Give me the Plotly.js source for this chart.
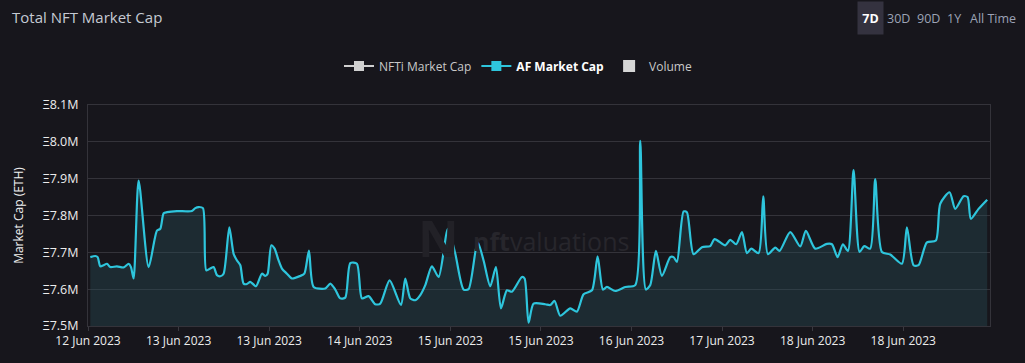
<!DOCTYPE html>
<html>
<head>
<meta charset="utf-8">
<script src="https://cdn.plot.ly/plotly-3.0.1.min.js"></script>
<style>
  html, body { margin: 0; padding: 0; background: #17161c; }
  #chart { width: 1025px; height: 363px; }
</style>
</head>
<body>
<div id="chart"></div>
<script>
// Hours after 12 Jun 2023 10:00 (UTC)
const hours = [0.43,1.35,1.79,2.28,2.90,3.52,4.14,5.37,6.61,7.54,7.97,8.46,9.39,11.25,12.79,13.41,14.03,14.65,16.50,19.28,19.90,20.52,21.32,21.94,22.68,23.30,23.92,24.54,25.15,26.21,27.01,27.63,28.25,28.86,29.48,30.10,31.15,32.26,32.88,33.32,34.00,34.61,35.35,35.97,36.90,37.83,39.37,40.12,40.98,41.85,44.01,44.94,45.86,46.79,47.72,48.65,49.88,50.81,52.05,53.28,54.21,55.94,58.04,58.85,59.77,60.70,61.63,62.56,63.79,65.03,66.76,68.12,69.67,70.59,72.26,73.37,74.61,75.66,76.59,77.70,78.63,80.48,80.98,81.72,82.65,84.81,85.74,86.54,87.59,89.45,90.68,91.92,93.47,94.52,95.51,96.25,97.79,99.65,101.50,102.43,103.48,104.29,105.34,106.45,107.99,108.61,109.23,110.47,111.08,112.32,113.87,115.41,116.21,118.19,119.12,120.23,121.29,122.21,123.02,124.38,125.24,126.11,127.47,128.27,130.25,132.10,133.15,134.89,137.05,137.98,139.03,140.02,140.95,141.99,143.11,143.97,145.08,146.01,147.25,148.80,150.96,151.89,153.12,154.05,155.60,157.26,158.07,159.80,160.85,162.40,163.14,163.75,165.18,166.78];
// AF Market Cap, millions of ETH
const afMarketCap = [7.687,7.690,7.687,7.662,7.665,7.669,7.660,7.662,7.659,7.669,7.660,7.629,7.895,7.660,7.759,7.764,7.806,7.809,7.812,7.812,7.820,7.823,7.820,7.651,7.656,7.660,7.638,7.635,7.642,7.768,7.696,7.678,7.665,7.615,7.614,7.620,7.608,7.642,7.636,7.642,7.719,7.710,7.678,7.656,7.642,7.629,7.636,7.642,7.705,7.606,7.602,7.615,7.599,7.575,7.577,7.671,7.669,7.575,7.581,7.559,7.561,7.624,7.557,7.629,7.575,7.570,7.584,7.611,7.662,7.633,7.764,7.696,7.599,7.600,7.728,7.678,7.608,7.660,7.548,7.597,7.593,7.633,7.629,7.509,7.561,7.559,7.557,7.568,7.528,7.548,7.539,7.586,7.597,7.689,7.599,7.606,7.595,7.606,7.611,8.003,7.599,7.611,7.704,7.636,7.687,7.687,7.674,7.811,7.809,7.695,7.714,7.717,7.736,7.719,7.734,7.722,7.755,7.698,7.710,7.698,7.852,7.695,7.713,7.704,7.755,7.716,7.758,7.710,7.723,7.722,7.687,7.722,7.704,7.923,7.701,7.717,7.710,7.899,7.701,7.694,7.669,7.768,7.665,7.665,7.727,7.732,7.832,7.863,7.818,7.852,7.850,7.791,7.818,7.843];

const legendNames = ['NFTi Market Cap', 'AF Market Cap', 'Volume'];
const rangeButtons = ['7D', '30D', '90D', '1Y', 'All Time'];
const yTicks = [7.5, 7.6, 7.7, 7.8, 7.9, 8.0, 8.1];
const yTickText = yTicks.map(v => 'Ξ' + v.toFixed(1) + 'M');

const startMs = Date.UTC(2023, 5, 12, 10, 0, 0);
function toDate(h) {
  return new Date(startMs + h * 3600000).toISOString().slice(0, 19).replace('T', ' ');
}
const times = hours.map(toDate);

const traces = [
  {
    x: times, y: afMarketCap, type: 'scatter', mode: 'lines',
    line: {color: '#2ec5dc', width: 2.2, shape: 'spline', smoothing: 0.7},
    fill: 'tozeroy', fillcolor: 'rgba(40,78,88,0.38)',
    showlegend: false, hoverinfo: 'x+y'
  },
  {
    x: [null], y: [null], type: 'scatter', mode: 'lines+markers',
    name: '<span style="color:#c9c9c9">' + legendNames[0] + '</span>',
    line: {color: '#d0d0d0', width: 2},
    marker: {symbol: 'square', size: 10, color: '#d0d0d0'}
  },
  {
    x: [null], y: [null], type: 'scatter', mode: 'lines+markers',
    name: '<b>' + legendNames[1] + '</b>',
    line: {color: '#2ec5dc', width: 2},
    marker: {symbol: 'square', size: 10, color: '#2ec5dc'}
  },
  {
    x: [null], y: [null], type: 'bar',
    name: '<span style="color:#c9c9c9">' + legendNames[2] + '</span>',
    marker: {color: '#d6d6d6'}
  }
];

const px = v => (v - 88) / 902;
const py = v => (326 - v) / 221;
const btnX = [870, 898, 928, 954, 993];
const annotations = rangeButtons.map((t, i) => ({
  text: i === 0 ? '<b>' + t + '</b>' : t,
  xref: 'paper', yref: 'paper', x: px(btnX[i]), y: py(18),
  xanchor: 'center', yanchor: 'middle', showarrow: false,
  font: {family: 'Open Sans, sans-serif', size: 12.5, color: i === 0 ? '#ffffff' : '#9ca3b6'},
  bgcolor: i === 0 ? '#34323f' : 'rgba(0,0,0,0)',
  width: i === 0 ? 23 : null, height: i === 0 ? 30 : null
}));
annotations.push({
  text: '<b>nft</b>valuations', xref: 'paper', yref: 'paper',
  x: px(551), y: py(241), xanchor: 'center', yanchor: 'middle', showarrow: false,
  font: {family: 'Open Sans, sans-serif', size: 25, color: '#27262c'}
});
annotations.push({
  text: '<b>N</b>', xref: 'paper', yref: 'paper',
  x: px(438), y: py(238), xanchor: 'center', yanchor: 'middle', showarrow: false,
  font: {family: 'Open Sans, sans-serif', size: 50, color: '#222127'}
});

const layout = {
  width: 1025, height: 363,
  paper_bgcolor: '#17161c', plot_bgcolor: '#17161c',
  margin: {l: 88, r: 35, t: 105, b: 37},
  font: {family: 'Open Sans, sans-serif', color: '#e8e8e8', size: 12},
  title: {
    text: 'Total NFT Market Cap', xref: 'container', yref: 'container',
    x: 12 / 1025, xanchor: 'left', y: 1 - 18 / 363, yanchor: 'middle',
    font: {family: 'Open Sans, sans-serif', size: 15, color: '#c5cad3'}
  },
  xaxis: {
    type: 'date',
    range: [toDate(0), toDate(167.3)],
    tick0: toDate(0), dtick: 16.8 * 3600000,
    tickformat: '%d %b %Y',
    showgrid: false, zeroline: false,
    showline: true, linecolor: '#34333a', linewidth: 1, mirror: true,
    ticks: 'outside', ticklen: 4, tickcolor: '#3a3940',
    tickfont: {size: 12, color: '#ececec'}
  },
  yaxis: {
    range: [7.5, 8.1],
    tickmode: 'array', tickvals: yTicks, ticktext: yTickText,
    showgrid: true, gridcolor: '#34333a', gridwidth: 1,
    zeroline: false,
    showline: true, linecolor: '#34333a', linewidth: 1, mirror: true,
    ticks: '', ticklabelstandoff: 6,
    tickfont: {size: 12.5, color: '#ececec'},
    title: {text: 'Market Cap (ETH)', standoff: 16, font: {size: 12, color: '#f0f0f0'}}
  },
  legend: {
    orientation: 'h', x: px(518), xanchor: 'center', y: 1 + (105 - 66) / 221, yanchor: 'middle',
    font: {size: 12, color: '#ffffff'}, itemwidth: 30, bgcolor: 'rgba(0,0,0,0)'
  },
  annotations: annotations,
  hovermode: 'x'
};

Plotly.newPlot('chart', traces, layout, {displayModeBar: false, responsive: false});
</script>
</body>
</html>
